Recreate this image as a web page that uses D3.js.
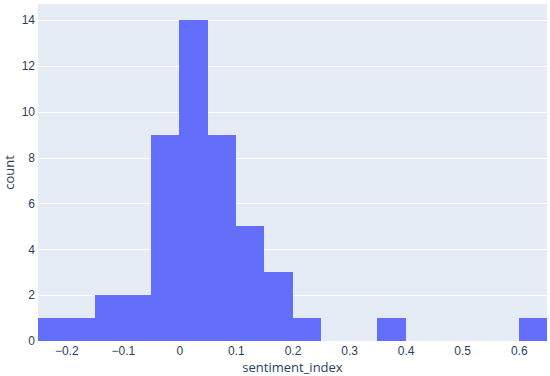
<!DOCTYPE html>
<html>
<head>
<meta charset="utf-8">
<script src="https://cdn.jsdelivr.net/npm/d3@7"></script>
<style>
  body { margin: 0; background: #fff; }
  svg { display: block; font-family: "Open Sans", "DejaVu Sans", sans-serif; }
  .tick text { fill: #2a3f5f; font-size: 12px; }
</style>
</head>
<body>
<svg id="chart"></svg>
<script>
// histogram bins of sentiment_index (width 0.05)
const binStarts = [-0.25, -0.2, -0.15, -0.1, -0.05, 0, 0.05, 0.1, 0.15, 0.2, 0.35, 0.6];
const counts = [1, 1, 2, 2, 9, 14, 9, 5, 3, 1, 1, 1];
const binSize = 0.05;
const xTicks = [-0.2, -0.1, 0, 0.1, 0.2, 0.3, 0.4, 0.5, 0.6];
const yTicks = [0, 2, 4, 6, 8, 10, 12, 14];

const width = 550;
const height = 376;
const margin = { top: 4, right: 3, bottom: 35, left: 38 };

const svg = d3.select('#chart')
  .attr('width', width)
  .attr('height', height);

const scaleX = d3.scaleLinear()
  .domain([-0.25, 0.65])
  .range([margin.left, width - margin.right]);

const scaleY = d3.scaleLinear()
  .domain([0, 14.7])
  .range([height - margin.bottom, margin.top]);

svg.append('rect')
  .attr('x', margin.left)
  .attr('y', margin.top)
  .attr('width', width - margin.left - margin.right)
  .attr('height', height - margin.top - margin.bottom)
  .attr('fill', '#E5ECF6');

// horizontal grid
svg.append('g')
  .selectAll('line')
  .data(yTicks.slice(1))
  .enter().append('line')
  .attr('x1', margin.left)
  .attr('x2', width - margin.right)
  .attr('y1', d => Math.round(scaleY(d)) + 0.5)
  .attr('y2', d => Math.round(scaleY(d)) + 0.5)
  .attr('stroke', '#fff')
  .attr('stroke-width', 1);

svg.append('g')
  .attr('shape-rendering', 'crispEdges')
  .selectAll('rect')
  .data(binStarts)
  .enter().append('rect')
  .attr('x', d => Math.round(scaleX(d)))
  .attr('width', d => Math.round(scaleX(d + binSize)) - Math.round(scaleX(d)))
  .attr('y', (d, i) => Math.round(scaleY(counts[i])))
  .attr('height', (d, i) => scaleY(0) - Math.round(scaleY(counts[i])))
  .attr('fill', '#636EFA');

const xAxis = svg.append('g')
  .attr('transform', `translate(0,${height - margin.bottom})`)
  .call(d3.axisBottom(scaleX)
    .tickValues(xTicks)
    .tickSize(0)
    .tickPadding(5)
    .tickFormat(d => d3.format('')(d).replace('-', '\u2212')));
xAxis.select('.domain').remove();

const yAxis = svg.append('g')
  .attr('transform', `translate(${margin.left},0)`)
  .call(d3.axisLeft(scaleY)
    .tickValues(yTicks)
    .tickSize(0)
    .tickPadding(3));
yAxis.select('.domain').remove();

svg.append('text')
  .attr('x', (margin.left + width - margin.right) / 2)
  .attr('y', 372)
  .attr('text-anchor', 'middle')
  .attr('fill', '#2a3f5f')
  .style('font-size', '13px')
  .text('sentiment_index');

svg.append('text')
  .attr('transform', `translate(14,${(margin.top + height - margin.bottom) / 2}) rotate(-90)`)
  .attr('text-anchor', 'middle')
  .attr('fill', '#2a3f5f')
  .style('font-size', '13px')
  .text('count');
</script>
</body>
</html>
